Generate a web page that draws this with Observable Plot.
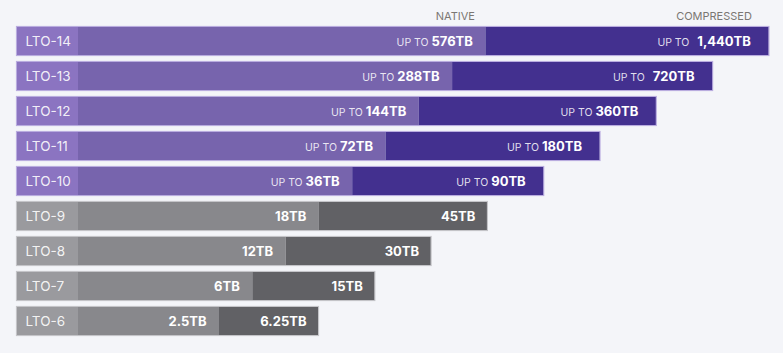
<!DOCTYPE html>
<html>
<head>
<meta charset="utf-8">
<script src="https://cdn.jsdelivr.net/npm/d3@7"></script>
<script src="https://cdn.jsdelivr.net/npm/@observablehq/plot@0.6"></script>
<style>
  html, body { margin: 0; padding: 0; background: #f4f5f9; }
  #chart svg { display: block; background: #f4f5f9; }
</style>
</head>
<body>
<div id="chart"></div>
<script>
// ---- data ----
const generations = ["LTO-14", "LTO-13", "LTO-12", "LTO-11", "LTO-10", "LTO-9", "LTO-8", "LTO-7", "LTO-6"];
const nativeTB = [576, 288, 144, 72, 36, 18, 12, 6, 2.5];
const compressedTB = [1440, 720, 360, 180, 90, 45, 30, 15, 6.25];
const nativeLabels = ["UP TO 576TB", "UP TO 288TB", "UP TO 144TB", "UP TO 72TB", "UP TO 36TB", "18TB", "12TB", "6TB", "2.5TB"];
const compressedLabels = ["UP TO 1,440TB", "UP TO 720TB", "UP TO 360TB", "UP TO 180TB", "UP TO 90TB", "45TB", "30TB", "15TB", "6.25TB"];
const columnHeaders = ["NATIVE", "COMPRESSED"];

// ---- layout (bar lengths step by generation rank, as in the infographic) ----
const nGen = generations.length;
const rows = generations.map((g, i) => {
  const rank = nGen - 1 - i;
  const purple = parseInt(g.split("-")[1]) >= 10;
  return {
    gen: g,
    native: nativeTB[i],
    compressed: compressedTB[i],
    nativeLabel: nativeLabels[i],
    compressedLabel: compressedLabels[i],
    purple,
    labelStart: 17,
    labelEnd: 78,
    nativeEnd: 219 + 33.3 * rank,
    compEnd: 318 + 56.3 * rank
  };
});
const topRow = rows[0];
const headers = [
  {text: columnHeaders[0], x: topRow.nativeEnd - 11, gen: topRow.gen},
  {text: columnHeaders[1], x: topRow.compEnd - 17, gen: topRow.gen}
];
const wideGap = new Set(compressedLabels.slice(0, 2));

const C = {
  purple: {label: "#8b74c1", native: "#7764ad", comp: "#43308f", edge: "#b9acdf"},
  gray: {label: "#9a9a9e", native: "#88888c", comp: "#616165", edge: "#c4c4c8"}
};
const pal = (d, k) => (d.purple ? C.purple : C.gray)[k];

const chart = Plot.plot({
  width: 783,
  height: 353,
  margin: 0,
  style: {background: "#f4f5f9", fontFamily: "Inter, 'Noto Sans', sans-serif"},
  x: {domain: [0, 783], range: [0, 783], axis: null},
  y: {domain: generations, range: [18.8, 342.5], padding: 0.196, axis: null},
  marks: [
    Plot.barX(rows, {y: "gen", x1: "labelStart", x2: "compEnd", fill: "none",
      stroke: d => pal(d, "edge"), strokeWidth: 1.2, inset: -0.5}),
    Plot.barX(rows, {y: "gen", x1: "labelStart", x2: "labelEnd", fill: d => pal(d, "label")}),
    Plot.barX(rows, {y: "gen", x1: "labelEnd", x2: "nativeEnd", fill: d => pal(d, "native")}),
    Plot.barX(rows, {y: "gen", x1: "nativeEnd", x2: "compEnd", fill: d => pal(d, "comp")}),
    Plot.text(rows, {y: "gen", x: "labelStart", dx: 8, text: "gen", textAnchor: "start",
      fill: "#ffffff", fillOpacity: 0.9, fontSize: 13.5}),
    Plot.text(rows, {y: "gen", x: "nativeEnd", dx: -13, text: "nativeLabel", textAnchor: "end",
      fill: "#ffffff", fontSize: 13, fontWeight: 700}),
    Plot.text(rows.filter(d => d.purple), {y: "gen", x: "compEnd", dx: -18, text: "compressedLabel", textAnchor: "end",
      fill: "#ffffff", fontSize: 13, fontWeight: 700}),
    Plot.text(rows.filter(d => !d.purple), {y: "gen", x: "compEnd", dx: -12, text: "compressedLabel", textAnchor: "end",
      fill: "#ffffff", fontSize: 13, fontWeight: 700}),
    Plot.text(headers, {y: "gen", x: "x", dy: -25, text: "text", textAnchor: "end",
      fill: "#7b7773", fontSize: 11, fontWeight: 400})
  ]
});

// split "UP TO" prefix into a smaller, lighter tspan
d3.select(chart).selectAll("text").each(function() {
  const t = this.textContent;
  if (t.startsWith("UP TO ")) {
    const val = t.slice(6);
    const el = d3.select(this);
    el.text(null);
    el.append("tspan").attr("font-size", 10.5).attr("font-weight", 400)
      .attr("fill-opacity", 0.85).text("UP TO ");
    el.append("tspan").attr("dx", wideGap.has(t) ? 5 : 0).text(val);
  }
});

document.getElementById("chart").appendChild(chart);
</script>
</body>
</html>
